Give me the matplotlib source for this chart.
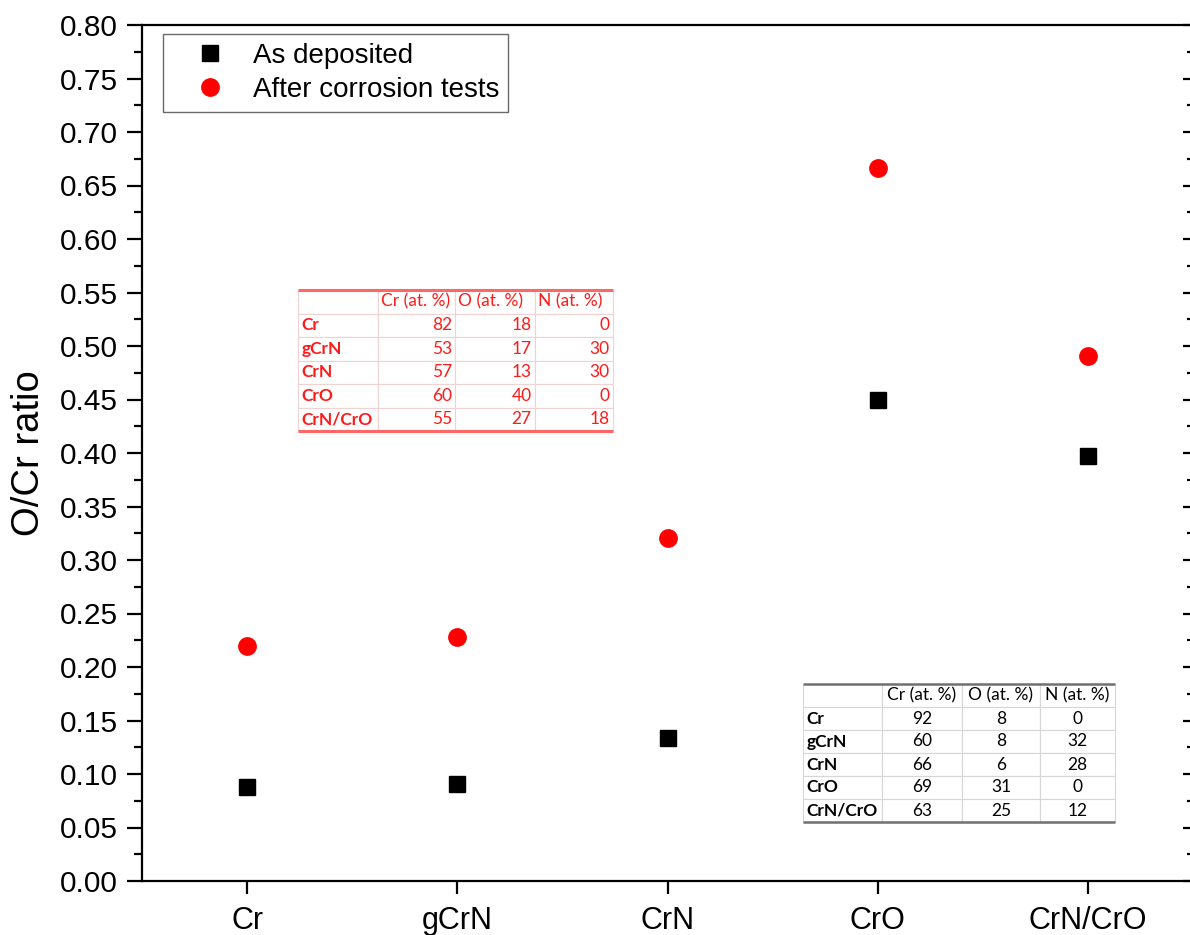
import numpy as np
import matplotlib
matplotlib.use("Agg")
import matplotlib.pyplot as plt
from matplotlib.ticker import MultipleLocator, NullFormatter

# ---------------- data ----------------
samples = ["Cr", "gCrN", "CrN", "CrO", "CrN/CrO"]
as_deposited = [0.088, 0.091, 0.134, 0.450, 0.397]
after_corrosion = [0.220, 0.228, 0.321, 0.666, 0.491]

table_header = ["", "Cr (at. %)", "O (at. %)", "N (at. %)"]
after_cr = [82, 53, 57, 60, 55]
after_o = [18, 17, 13, 40, 27]
after_n = [0, 30, 30, 0, 18]
dep_cr = [92, 60, 66, 69, 63]
dep_o = [8, 8, 6, 31, 25]
dep_n = [0, 32, 28, 0, 12]

yticks = np.round(np.arange(0, 0.8001, 0.05), 2)

plt.rcParams['font.family'] = ['Liberation Sans', 'DejaVu Sans']

W, H = 1190, 935
fig = plt.figure(figsize=(W / 100, H / 100), dpi=100)
ax = fig.add_axes([142 / W, 1 - 881 / H, 1051 / W, 856 / H])

x = np.arange(len(samples))
ax.plot(x, as_deposited, ls='none', marker='s', color='black', ms=11,
        label='As deposited')
ax.plot(x, after_corrosion, ls='none', marker='o', color='red', ms=12.5,
        label='After corrosion tests')

ax.set_xlim(-0.5, 4.5)
ax.set_ylim(0, 0.8)
ax.set_xticks(x)
ax.set_xticklabels(samples)
ax.set_yticks(yticks)
ax.set_yticklabels([f"{v:.2f}" for v in yticks])
ax.yaxis.set_minor_locator(MultipleLocator(0.025))

for s in ax.spines.values():
    s.set_linewidth(1.6)

ax.tick_params(axis='y', which='major', direction='out', length=10.5,
               width=1.6, labelsize=21.5, pad=7, right=False)
ax.tick_params(axis='y', which='minor', direction='out', length=5.5,
               width=1.6, right=False)
ax.tick_params(axis='x', which='major', direction='out', length=9,
               width=1.6, labelsize=22, pad=9, top=False)
ax.tick_params(axis='x', which='minor', bottom=False, top=False)

# right side inward ticks
sec = ax.secondary_yaxis('right')
sec.set_yticks(yticks)
sec.yaxis.set_minor_locator(MultipleLocator(0.025))
sec.yaxis.set_major_formatter(NullFormatter())
sec.tick_params(axis='y', which='major', direction='in', length=7, width=1.6)
sec.tick_params(axis='y', which='minor', direction='in', length=4, width=1.6)
sec.spines['right'].set_linewidth(1.6)

ax.set_ylabel('O/Cr ratio', fontsize=27.5, labelpad=9)

leg = ax.legend(loc='upper left', bbox_to_anchor=(21 / 1051, 1 - 9 / 856),
                borderaxespad=0, fontsize=20, frameon=True, fancybox=False,
                edgecolor='#444444', labelspacing=0.27, handlelength=2.75,
                handletextpad=0.15, borderpad=0.33, markerscale=1.0)
leg.get_frame().set_linewidth(1.0)


def draw_table(xpix0, xpix1, ypix0, ypix1, colw, c1, c2, c3, text_color,
               grid_color, rule_color, rule_w, num_loc, head_loc, fontsize):
    x0 = (xpix0 - 142) / 1051
    w = (xpix1 - xpix0) / 1051
    y1 = (881 - ypix0) / 856
    y0 = (881 - ypix1) / 856
    rows = [table_header] + [[s, str(a), str(b), str(c)]
                             for s, a, b, c in zip(samples, c1, c2, c3)]
    tbl = ax.table(cellText=rows, bbox=[x0, y0, w, y1 - y0],
                   colWidths=colw, cellLoc='center')
    tbl.auto_set_font_size(False)
    tbl.set_fontsize(fontsize)
    for (r, c), cell in tbl.get_celld().items():
        cell.set_edgecolor(grid_color)
        cell.set_linewidth(0.8)
        cell.set_facecolor('white')
        cell.PAD = 0.04
        t = cell.get_text()
        t.set_color(text_color)
        t.set_fontfamily(['Lato', 'DejaVu Sans'])
        if c == 0:
            cell._loc = 'left'
            t.set_ha('left')
            t.set_fontweight('bold')
        elif r == 0:
            cell._loc = head_loc
            t.set_ha(head_loc)
        else:
            cell._loc = num_loc
            t.set_ha(num_loc)
    for yy in (y0, y1):
        ax.plot([x0, x0 + w], [yy, yy], transform=ax.transAxes,
                color=rule_color, lw=rule_w, clip_on=False, zorder=10,
                solid_capstyle='butt')
    return tbl


draw_table(298, 613, 290, 431, [80, 77, 80, 78], after_cr, after_o, after_n,
           '#ff1a1a', '#efd3d3', '#ff6666', 2.2, 'right', 'left', 12.5)
draw_table(803, 1115, 684, 822, [79, 80, 78, 75], dep_cr, dep_o, dep_n,
           'black', '#d6d6d6', '#707070', 1.8, 'center', 'center', 12.5)

fig.savefig('out.png', dpi=100)
